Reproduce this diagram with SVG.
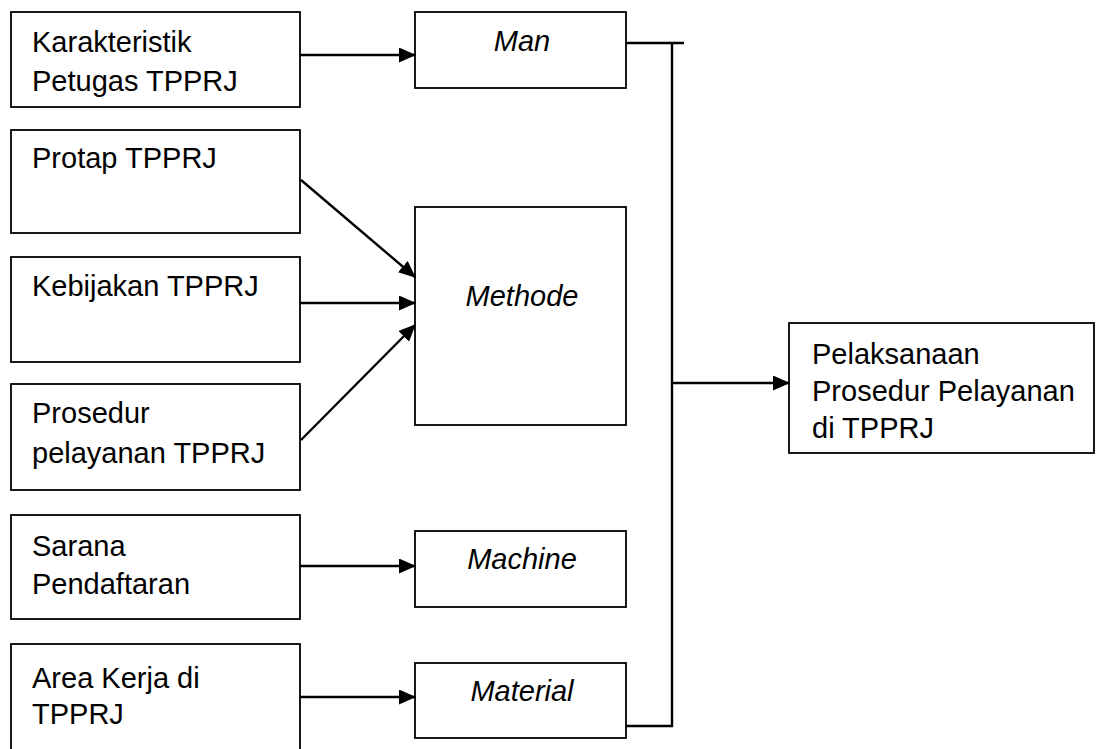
<svg xmlns="http://www.w3.org/2000/svg" width="1097" height="749" viewBox="0 0 1097 749">
<style>
.box{fill:#fff;stroke:#000;stroke-width:1.8}
.t{font-family:"Liberation Sans",Arial,sans-serif;font-size:29px;fill:#000}
.i{font-style:italic;text-anchor:middle}
.c{fill:none;stroke:#000;stroke-width:2.4}
</style>
<defs>
<marker id="ah" markerWidth="17" markerHeight="15" refX="16" refY="7.5" orient="auto" markerUnits="userSpaceOnUse">
<path d="M0,0 L17,7.5 L0,15 Z" fill="#000"/>
</marker>
</defs>
<rect width="1097" height="749" fill="#fff"/>
<g id="n-karakteristik"><rect class="box" x="11" y="12" width="289" height="95"/><text class="t" x="32" y="52">Karakteristik</text><text class="t" x="32" y="91">Petugas TPPRJ</text></g>
<g id="n-protap"><rect class="box" x="11" y="130" width="289" height="103"/><text class="t" x="32" y="168">Protap TPPRJ</text></g>
<g id="n-kebijakan"><rect class="box" x="11" y="257" width="289" height="105"/><text class="t" x="32" y="296">Kebijakan TPPRJ</text></g>
<g id="n-prosedur"><rect class="box" x="11" y="384" width="289" height="106"/><text class="t" x="32" y="423">Prosedur</text><text class="t" x="32" y="463">pelayanan TPPRJ</text></g>
<g id="n-sarana"><rect class="box" x="11" y="515" width="289" height="104"/><text class="t" x="32" y="556">Sarana</text><text class="t" x="32" y="594">Pendaftaran</text></g>
<g id="n-area"><rect class="box" x="11" y="644" width="289" height="110"/><text class="t" x="32" y="688">Area Kerja di</text><text class="t" x="32" y="724">TPPRJ</text></g>
<g id="n-man"><rect class="box" x="415" y="12" width="211" height="76"/><text class="t i" x="522" y="51">Man</text></g>
<g id="n-methode"><rect class="box" x="415" y="207" width="211" height="218"/><text class="t i" x="522" y="306">Methode</text></g>
<g id="n-machine"><rect class="box" x="415" y="531" width="211" height="76"/><text class="t i" x="522" y="569">Machine</text></g>
<g id="n-material"><rect class="box" x="415" y="663" width="211" height="75"/><text class="t i" x="522" y="701">Material</text></g>
<g id="n-result"><rect class="box" x="789" y="323" width="305" height="130"/><text class="t" x="812" y="364">Pelaksanaan</text><text class="t" x="812" y="401">Prosedur Pelayanan</text><text class="t" x="812" y="438">di TPPRJ</text></g>
<g id="connectors">
<line class="c" x1="300" y1="55" x2="415" y2="55" marker-end="url(#ah)"/>
<line class="c" x1="301" y1="180" x2="415" y2="277" marker-end="url(#ah)"/>
<line class="c" x1="300" y1="303" x2="415" y2="303" marker-end="url(#ah)"/>
<line class="c" x1="301" y1="440" x2="415" y2="325" marker-end="url(#ah)"/>
<line class="c" x1="300" y1="566" x2="415" y2="566" marker-end="url(#ah)"/>
<line class="c" x1="300" y1="697" x2="415" y2="697" marker-end="url(#ah)"/>
<polyline class="c" points="626,43 684,43"/>
<polyline class="c" points="672,43 672,726 626,726"/>
<line class="c" x1="672" y1="383" x2="789" y2="383" marker-end="url(#ah)"/>
</g>
</svg>
